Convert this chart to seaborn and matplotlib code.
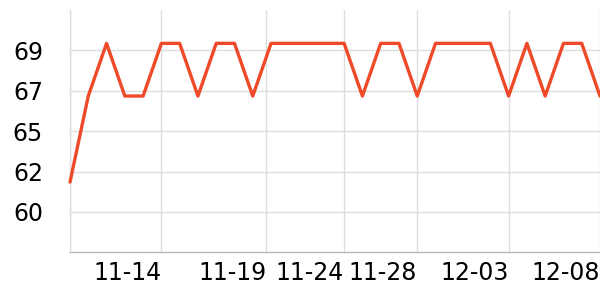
import matplotlib
matplotlib.use("Agg")
import matplotlib.pyplot as plt
import seaborn as sns
import pandas as pd

# ---- data ----
dates = ["11-09", "11-10", "11-11", "11-12", "11-13", "11-14", "11-15", "11-16",
         "11-17", "11-18", "11-19", "11-20", "11-21", "11-22", "11-23", "11-24",
         "11-25", "11-26", "11-27", "11-28", "11-29", "11-30", "12-01", "12-02",
         "12-03", "12-04", "12-05", "12-06", "12-07", "12-08"]
values = [61.7, 66.6, 69.6, 66.6, 66.6, 69.6, 69.6, 66.6, 69.6, 69.6,
          66.6, 69.6, 69.6, 69.6, 69.6, 69.6, 66.6, 69.6, 69.6, 66.6,
          69.6, 69.6, 69.6, 69.6, 66.6, 69.6, 66.6, 69.6, 69.6, 66.6]
x_tick_pos = [0, 5, 10.75, 15, 19, 24, 29]
x_tick_labels = ["", "11-14", "11-19", "11-24", "11-28", "12-03", "12-08"]
y_ticks = [60, 62.3, 64.6, 66.9, 69.2]
y_tick_labels = ["60", "62", "65", "67", "69"]

df = pd.DataFrame({"idx": range(len(dates)), "date": dates, "value": values})

sns.set_style("white")
plt.rcParams["font.family"] = ["DejaVu Sans"]

fig = plt.figure(figsize=(6, 3), dpi=100)
ax = fig.add_axes([70 / 600, 1 - 252.3 / 300, 530 / 600, (252.3 - 10) / 300])

sns.lineplot(data=df, x="idx", y="value", ax=ax, color="#EE4A2A",
             linewidth=2.4, clip_on=False, zorder=3)

ax.set_xlim(0, 29)
ax.set_ylim(57.7, 71.5)
ax.set_xticks(x_tick_pos)
ax.set_xticklabels(x_tick_labels)
for lab in ax.get_xticklabels():
    lab.set_ha("right")
ax.set_yticks(y_ticks)
ax.set_yticklabels(y_tick_labels)
ax.set_xlabel("")
ax.set_ylabel("")

ax.grid(True, color="#dddddd", linewidth=1.0)
ax.set_axisbelow(True)
for s in ["top", "right"]:
    ax.spines[s].set_visible(False)
ax.spines["left"].set_color("#dddddd")
ax.spines["left"].set_linewidth(1.0)
ax.spines["bottom"].set_color("#bbbbbb")
ax.spines["bottom"].set_linewidth(1.0)

ax.tick_params(axis="x", length=3, width=1, color="#bbbbbb", pad=3,
               labelsize=17, labelcolor="black")
ax.tick_params(axis="y", length=1.5, width=1, color="#dddddd", pad=18,
               labelsize=17, labelcolor="black")

fig.savefig("out.png", dpi=100)
